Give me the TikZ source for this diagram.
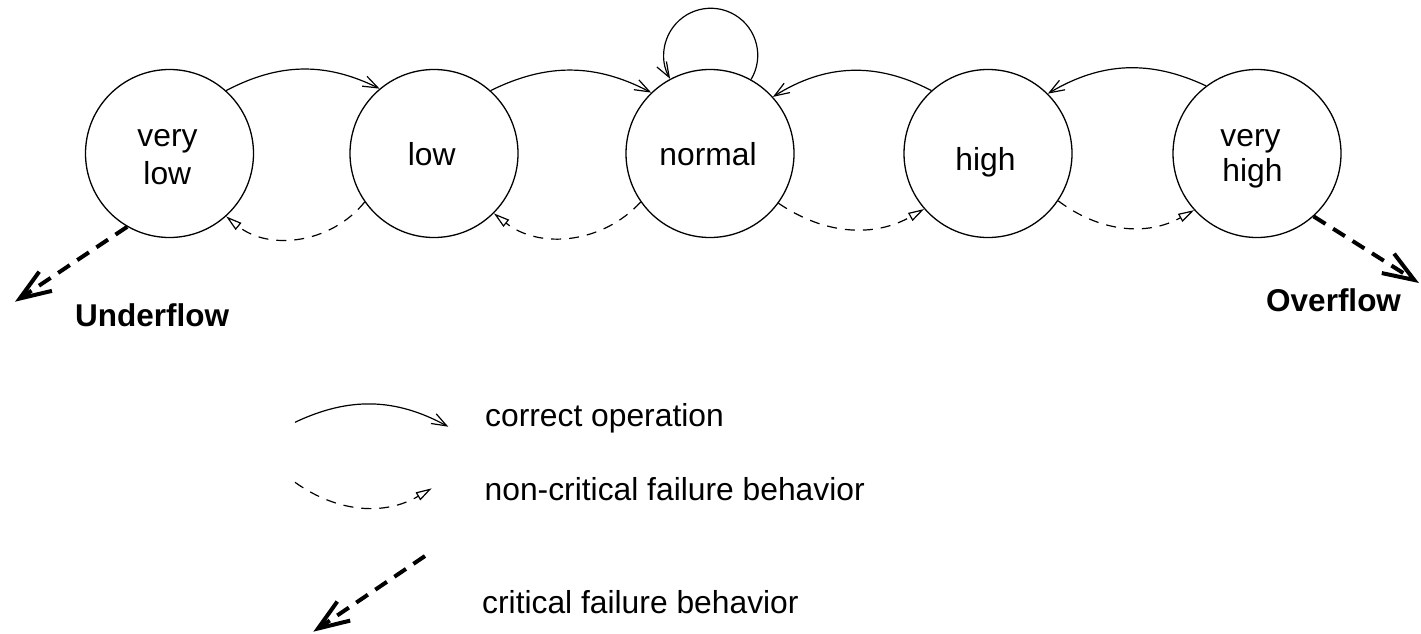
\documentclass[tikz,border=0pt]{standalone}
\usepackage{fontspec}
\setmainfont{Liberation Sans}
\usetikzlibrary{arrows.meta}
\begin{document}
\begin{tikzpicture}[x=1pt,y=1pt,
  state/.style={circle, draw, line width=1.3pt, minimum size=168pt, inner sep=0pt},
  lbl/.style={inner sep=0pt, anchor=base, font=\fontsize{31.8}{36}\selectfont},
  lgd/.style={lbl, anchor=base west},
  boldlbl/.style={inner sep=0pt, anchor=base west, font=\fontsize{31.5}{36}\selectfont\bfseries},
  cor/.style={line width=1.2pt, -{Straight Barb[length=15pt,width=11pt]}},
  ncf/.style={line width=1.2pt, dash pattern=on 10pt off 8pt, -{Triangle[open,length=16pt,width=9pt]}},
  crit/.style={line width=4pt, dash pattern=on 14pt off 9pt, -{Straight Barb[length=31pt,width=23pt]}},
]
\useasboundingbox (0,0) rectangle (1421,-634);

% the five level states
\node[state] (vlow)   at (169.5,-153.5) {};
\node[state] (low)    at (434,-153.5)   {};
\node[state] (normal) at (710,-153.5)   {};
\node[state] (high)   at (988,-153.5)   {};
\node[state] (vhigh)  at (1257,-153.5)  {};

% state labels
\node[lbl] (vlowA)  at (167.5,-146.7) {very};
\node[lbl] (vlowB)  at (167.3,-184.3) {low};
\node[lbl] (lowA)   at (431.7,-165)   {low};
\node[lbl] (normA)  at (708,-165)     {normal};
\node[lbl] (highA)  at (985.5,-170)   {high};
\node[lbl] (vhighA) at (1250.5,-146.7) {very};
\node[lbl] (vhighB) at (1252.5,-181.7) {high};

% correct operation
\draw[cor] (vlow.48)   to[bend left=27]  (low.130);
\draw[cor] (low.48)    to[bend left=27]  (normal.134);
\draw[cor] (high.132)  to[bend right=30] (normal.42);
\draw[cor] (vhigh.127) to[bend right=28] (high.45);
\draw[cor] (normal.61) arc[start angle=-31, end angle=210, radius=47];

% non-critical failure behaviour
\draw[ncf] (low.215)    to[bend left=45]  (vlow.-48);
\draw[ncf] (normal.215) to[bend left=43]  (low.-45);
\draw[ncf] (normal.-36) to[bend right=32] (high.221);
\draw[ncf] (high.-34)   to[bend right=33] (vhigh.222);

% critical failure behaviour
\coordinate (uflow) at (15,-301.7);
\coordinate (oflow) at (1419,-283);
\draw[crit] (vlow.240)   -- (uflow);
\draw[crit] (vhigh.-48.5) -- (oflow);
\node[boldlbl] (uflowT) at (75,-326)   {Underflow};
\node[boldlbl] (oflowT) at (1266,-311) {Overflow};

% legend
\coordinate (k1a) at (295,-422.3);
\coordinate (k1b) at (448.3,-426.7);
\coordinate (k2a) at (295,-482.3);
\coordinate (k2b) at (431.7,-488.3);
\coordinate (k3a) at (425,-556);
\coordinate (k3b) at (313.3,-631.7);
\draw[cor]  (k1a) to[bend left=27]  (k1b);
\draw[ncf]  (k2a) to[bend right=33] (k2b);
\draw[crit] (k3a) -- (k3b);
\node[lgd] (k1T) at (485,-426)   {correct operation};
\node[lgd] (k2T) at (484.5,-500.7) {non-critical failure behavior};
\node[lgd] (k3T) at (482,-613.3) {critical failure behavior};
\end{tikzpicture}
\end{document}
